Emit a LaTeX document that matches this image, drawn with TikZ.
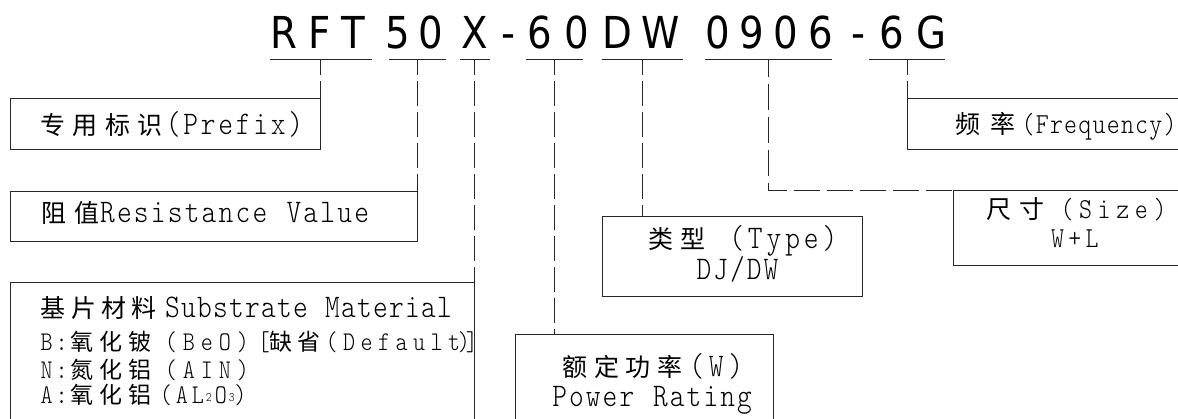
\documentclass[tikz,border=0pt]{standalone}
\usepackage{fontspec}
\newfontfamily\cjk{Noto Sans CJK SC}
\newfontfamily\lat[Extension=.otf,FakeStretch=0.85]{lmmonolt10-regular}
\newfontfamily\ttl[FakeStretch=0.88]{DejaVu Sans}
\newcommand\CJ{\cjk\fontsize{25}{25}\selectfont}
\newcommand\CJs{\cjk\fontsize{23}{23}\selectfont}
\newcommand\LT{\lat\fontsize{33}{33}\selectfont}
\newcommand\LTm{\lat\fontsize{29}{29}\selectfont}
\newcommand\LTs{\lat\fontsize{27}{27}\selectfont}
\newcommand\smallsub[1]{\raisebox{2pt}{\lat\fontsize{13}{13}\selectfont #1}}
\ExplSyntaxOn
\NewDocumentCommand\sq{mm}{\tl_map_inline:nn{#2}{\makebox[#1pt]{##1}}}
\ExplSyntaxOff
\newcommand\tch[2]{\hspace{#1pt}\makebox[0pt]{#2}}
\tikzset{
  ln/.style={line width=0.8pt, draw=black!85},
  dl/.style={ln, dash pattern=on 25pt off 6pt, dash phase=9pt},
  box/.style={ln, rectangle, inner sep=0pt, outer sep=0pt, anchor=north west},
  txt/.style={anchor=base west, inner sep=0pt, outer sep=0pt},
}
\begin{document}
\begin{tikzpicture}[x=1pt,y=-1pt]
\useasboundingbox (0,0) rectangle (1178,419);
\clip (0,0) rectangle (1178,419);
% title
\node[txt] (title) at (284,48.5) {\ttl\fontsize{44}{44}\selectfont
  \tch{0}{R}\tch{36}{F}\tch{33}{T}\tch{45}{5}\tch{33}{0}\tch{44}{X}\tch{33.5}{-}%
  \tch{31.5}{6}\tch{37}{0}\tch{40.5}{D}\tch{43.5}{W}\tch{57}{0}\tch{33.5}{9}\tch{34.5}{0}%
  \tch{35}{6}\tch{38}{-}\tch{33}{6}\tch{39.5}{G}};
% underlines and tick points
\draw[ln] (270,59.3) -- (371.7,59.3);
\draw[ln] (389.3,59.3) -- (445.7,59.3);
\draw[ln] (460,59.3) -- (490,59.3);
\draw[ln] (525.7,59.3) -- (582.7,59.3);
\draw[ln] (601.7,59.3) -- (683.3,59.3);
\draw[ln] (705,59.3) -- (832.3,59.3);
\draw[ln] (869.3,59.3) -- (945,59.3);
\coordinate (k1) at (320.7,59.3);
\coordinate (k2) at (417.7,59.3);
\coordinate (k3) at (474.3,59.3);
\coordinate (k4) at (554.3,59.3);
\coordinate (k5) at (642.3,59.3);
\coordinate (k6) at (768.3,59.3);
\coordinate (k7) at (907.3,59.3);
% boxes
\node[box, minimum width=310pt, minimum height=50.7pt] (prefix) at (10.7,98.3) {};
\node[box, minimum width=407pt, minimum height=50pt] (resist) at (10.7,191) {};
\node[box, minimum width=463.6pt, minimum height=170pt] (subst) at (10.7,282.3) {};
\node[box, minimum width=258.3pt, minimum height=120pt] (power) at (515,334.3) {};
\node[box, minimum width=259.6pt, minimum height=80pt] (type) at (602.7,216.7) {};
\node[box, minimum width=292.7pt, minimum height=50.7pt] (freq) at (907.3,98.3) {};
\node[box, minimum width=246.7pt, minimum height=74.8pt] (size) at (953.3,190.7) {};
% connectors
\draw[dl] (k1) -- (prefix.north east);
\draw[dl] (k2) -- (resist.north east);
\draw[dl] (k3) -- (subst.north east);
\draw[dl] (k4) -- (k4 |- power.north);
\draw[dl] (k5) -- (k5 |- type.north);
\draw[ln, dash pattern=on 26pt off 7pt, dash phase=8pt] (k6) -- (k6 |- size.north) -- (size.north west);
\draw[dl] (k7) -- (freq.north west);
% texts
\node[txt] (tprefix) at (37.2,135) {\CJ\sq{32.2}{专用标识}\hspace{-1.5pt}\LT\sq{17.5}{(Prefix)}};
\node[txt] (tresist) at (37.55,222.3) {\CJ\sq{33.3}{阻值}\hspace{-5.2pt}\LT\sq{16.95}{Resistance~Value}};
\node[txt] (tsub1) at (38.15,318) {\CJ\sq{30.3}{基片材料}\hspace{5.15pt}\LT\sq{16}{Substrate~Material}};
\node[txt] (tsub2) at (39.2,351) {\LTs\sq{15}{B:}\hspace{-2.1pt}\CJs\sq{29.2}{氧化铍}\hspace{7.1pt}\LTs\sq{18}{(BeO)}\hspace{3.2pt}\sq{18}{[}\hspace{-6.25pt}\CJs\sq{28.5}{缺省}\hspace{-0.8pt}\LTs\sq{17.5}{(Default}\hspace{-2.95pt}\sq{8}{)]}};
\node[txt] (tsub3) at (39.2,379) {\LTs\sq{15}{N:}\hspace{-2.1pt}\CJs\sq{29.2}{氮化铝}\hspace{7.1pt}\LTs\sq{18}{(AIN)}};
\node[txt] (tsub4) at (39.2,404) {\LTs\sq{15}{A:}\hspace{-2.1pt}\CJs\sq{29.2}{氧化铝}\hspace{3.1pt}\LTs\sq{16}{(AL}\makebox[6pt]{\smallsub{2}}\hspace{1pt}\sq{16}{O}\makebox[6pt]{\smallsub{3}}\hspace{0.5pt}\sq{10}{)}};
\node[txt] (ttype1) at (644.55,248.3) {\CJ\sq{32.5}{类型}\hspace{17.8pt}\LT\sq{18.66}{(Type)}};
\node[txt] (ttype2) at (695.6,280) {\LT\sq{16.75}{DJ/DW}};
\node[txt] (tpow1) at (559.2,376.7) {\CJ\sq{31.67}{额定功率}\hspace{1.1pt}\LT\sq{19.5}{(W)}};
\node[txt] (tpow2) at (551.3,406.7) {\LT\sq{16.8}{Power~Rating}};
\node[txt] (tfreq) at (950,133.3) {\CJ\sq{35}{频率}\hspace{1pt}\LTm\sq{14.2}{(Frequency)}};
\node[txt] (tsize1) at (982.5,219) {\CJ\sq{33}{尺寸}\hspace{9.2pt}\LTm\sq{18.6}{(Size)}};
\node[txt] (tsize2) at (1048.9,248) {\LTm\sq{17.25}{W+L}};
\end{tikzpicture}
\end{document}
